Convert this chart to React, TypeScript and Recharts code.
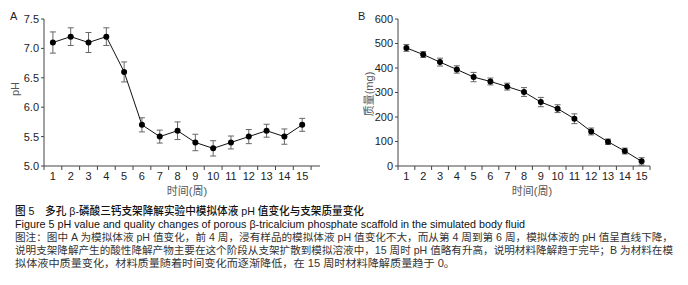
import React from "react";
import { LineChart, Line, XAxis, YAxis, ErrorBar } from "recharts";

// weeks 1-15
const weeks = [1, 2, 3, 4, 5, 6, 7, 8, 9, 10, 11, 12, 13, 14, 15];
const phMean = [7.1, 7.2, 7.1, 7.2, 6.6, 5.7, 5.5, 5.6, 5.4, 5.3, 5.4, 5.5, 5.6, 5.5, 5.7];
const phSd = [0.18, 0.15, 0.17, 0.15, 0.17, 0.12, 0.11, 0.15, 0.14, 0.13, 0.11, 0.12, 0.11, 0.13, 0.11];
const massMean = [482, 455, 424, 394, 363, 345, 324, 302, 261, 234, 193, 141, 99, 61, 19];
const massSd = [14, 12, 16, 15, 19, 14, 14, 18, 19, 16, 20, 14, 11, 12, 15];
const phTicks = [5.0, 5.5, 6.0, 6.5, 7.0, 7.5];
const massTicks = [0, 100, 200, 300, 400, 500, 600];

const captionTitle = "图 5　多孔 β-磷酸三钙支架降解实验中模拟体液 pH 值变化与支架质量变化";
const captionEn = "Figure 5   pH value and quality changes of porous β-tricalcium phosphate scaffold in the simulated body fluid";
const captionNotes = [
  "图注：图中 A 为模拟体液 pH 值变化，前 4 周，浸有样品的模拟体液 pH 值变化不大，而从第 4 周到第 6 周，模拟体液的 pH 值呈直线下降，",
  "说明支架降解产生的酸性降解产物主要在这个阶段从支架扩散到模拟溶液中，15 周时 pH 值略有升高，说明材料降解趋于完毕；B 为材料在模",
  "拟体液中质量变化，材料质量随着时间变化而逐渐降低，在 15 周时材料降解质量趋于 0。",
];

const phData = weeks.map((w, i) => ({ week: w, value: phMean[i], err: phSd[i] }));
const massData = weeks.map((w, i) => ({ week: w, value: massMean[i], err: massSd[i] }));

const FONT = "'Liberation Sans', Arial, sans-serif";
const CJK = "'Liberation Sans', 'Noto Sans CJK SC', sans-serif";
const AXIS = "#444";

function makeTick(half: number, last: number) {
  return function WeekTick(props: any) {
    const { x, y, payload } = props;
    return (
      <g>
        <line x1={x - half} y1={y - 8} x2={x - half} y2={y - 4} stroke={AXIS} />
        {payload.value === last && (
          <line x1={x + half} y1={y - 8} x2={x + half} y2={y - 4} stroke={AXIS} />
        )}
        <text x={x} y={y + 6} textAnchor="middle" fontSize={11} fill="#222" fontFamily={FONT}>
          {payload.value}
        </text>
      </g>
    );
  };
}

function Panel({
  data,
  domain,
  ticks,
  xDomain,
  yWidth,
  width,
  right,
  half,
  fmt,
}: {
  data: { week: number; value: number; err: number }[];
  domain: [number, number];
  ticks: number[];
  xDomain: [number, number];
  yWidth: number;
  width: number;
  right: number;
  half: number;
  fmt: (v: number) => string;
}) {
  return (
    <LineChart width={width} height={200} data={data} margin={{ top: 19, right, bottom: 4, left: 0 }}>
      <XAxis
        dataKey="week"
        type="number"
        domain={xDomain}
        ticks={weeks}
        allowDataOverflow
        height={30}
        stroke={AXIS}
        tickLine={false}
        tick={makeTick(half, 15)}
        interval={0}
      />
      <YAxis
        domain={domain}
        ticks={ticks}
        width={yWidth}
        stroke={AXIS}
        tickSize={3}
        tickFormatter={fmt}
        tick={{ fontSize: 11, fill: "#222", fontFamily: FONT }}
        interval={0}
      />
      <Line
        dataKey="value"
        stroke="#111"
        strokeWidth={1}
        dot={{ r: 3, fill: "#000", stroke: "#000", strokeWidth: 0 }}
        isAnimationActive={false}
      >
        <ErrorBar dataKey="err" width={3} stroke="#666" strokeWidth={1} direction="y" />
      </Line>
    </LineChart>
  );
}

export default function App() {
  return (
    <div style={{ position: "absolute", left: 0, top: 0, width: 688, height: 285, background: "#fff" }}>
      <div style={{ position: "absolute", left: 0, top: 0 }}>
        <Panel
          data={phData}
          domain={[5, 7.5]}
          ticks={phTicks}
          xDomain={[0.5, 16]}
          yWidth={44}
          width={340}
          right={20}
          half={8.9}
          fmt={(v) => v.toFixed(1)}
        />
      </div>
      <div style={{ position: "absolute", left: 340, top: 0 }}>
        <Panel
          data={massData}
          domain={[0, 600]}
          ticks={massTicks}
          xDomain={[0.5, 15.5]}
          yWidth={58}
          width={348}
          right={38}
          half={8.4}
          fmt={(v) => String(v)}
        />
      </div>
      <svg width={688} height={285} style={{ position: "absolute", left: 0, top: 0, pointerEvents: "none" }}>
        <text x={10} y={20} fontSize={11} fontFamily={FONT} fill="#222">A</text>
        <text x={358} y={20} fontSize={11} fontFamily={FONT} fill="#222">B</text>
        <text
          x={0}
          y={0}
          transform="translate(19,89) rotate(-90)"
          textAnchor="middle"
          fontSize={11}
          fontFamily={FONT}
          fill="#555"
        >
          pH
        </text>
        <text
          x={0}
          y={0}
          transform="translate(373,94) rotate(-90)"
          textAnchor="middle"
          fontSize={11}
          fontFamily={CJK}
          fill="#555"
        >
          质量(mg)
        </text>
        <text x={187} y={195} textAnchor="middle" fontSize={11} fontFamily={CJK} fill="#555">时间(周)</text>
        <text x={532} y={195} textAnchor="middle" fontSize={11} fontFamily={CJK} fill="#555">时间(周)</text>

        <text x={15} y={215} fontSize={11} fontFamily={CJK} fill="#111" fontWeight={500} textLength={349} lengthAdjust="spacingAndGlyphs">
          {captionTitle}
        </text>
        <text x={15} y={228} fontSize={11} fontFamily={FONT} fill="#111" textLength={510} lengthAdjust="spacingAndGlyphs">
          {captionEn}
        </text>
        {captionNotes.map((t, i) => (
          <text
            key={i}
            x={15}
            y={241 + i * 13}
            fontSize={10.5}
            fontFamily={CJK}
            fill="#333"
            textLength={i === 2 ? 440 : 658}
            lengthAdjust="spacingAndGlyphs"
          >
            {t}
          </text>
        ))}
      </svg>
    </div>
  );
}
